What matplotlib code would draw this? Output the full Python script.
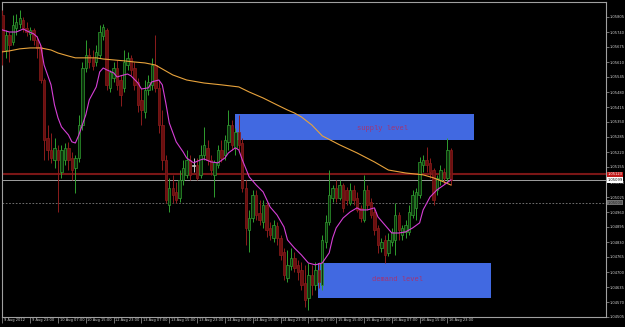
import matplotlib
matplotlib.use("Agg")
import matplotlib.pyplot as plt
import matplotlib.transforms as mtransforms
from matplotlib.patches import Rectangle
import numpy as np

# EURUSD-like H1 bars, 9 Aug 15:00 .. 16 Aug 23:00
opens = [1.05814, 1.05662, 1.05727, 1.05697, 1.05758, 1.05775, 1.05792, 1.05758, 1.05732, 1.05749,
         1.05706, 1.05675, 1.05532, 1.05281, 1.05229, 1.05186, 1.05229, 1.05134, 1.05186, 1.05238,
         1.05194, 1.05151, 1.05194, 1.05337, 1.05584, 1.05641, 1.05628, 1.05610, 1.05641, 1.05723,
         1.05749, 1.05498, 1.05541, 1.05584, 1.05532, 1.05498, 1.05597, 1.05628, 1.05584, 1.05524,
         1.05446, 1.05394, 1.05489, 1.05511, 1.05597, 1.05498, 1.05337, 1.05186, 1.04991, 1.05064,
         1.05047, 1.05021, 1.05099, 1.05121, 1.05186, 1.05160, 1.05164, 1.05121, 1.05207, 1.05238,
         1.05186, 1.05121, 1.05164, 1.05229, 1.05207, 1.05264, 1.05337, 1.05238, 1.05307, 1.05259,
         1.05064, 1.04882, 1.04934, 1.05034, 1.04956, 1.04917, 1.04991, 1.04891, 1.04848, 1.04900,
         1.04848, 1.04787, 1.04674, 1.04726, 1.04761, 1.04731, 1.04709, 1.04653, 1.04588, 1.04687,
         1.04644, 1.04709, 1.04644, 1.04830, 1.04917, 1.05021, 1.05064, 1.05021, 1.05077, 1.05056,
         1.04999, 1.05056, 1.05021, 1.04978, 1.04926, 1.05056, 1.05004, 1.04960, 1.04891, 1.04804,
         1.04839, 1.04783, 1.04830, 1.04839, 1.04947, 1.04861, 1.04874, 1.04874, 1.04947, 1.04978,
         1.05034, 1.05164, 1.05186, 1.05173, 1.05142, 1.05056, 1.05099, 1.05134, 1.05108, 1.05229]
highs = [1.05836, 1.05749, 1.05740, 1.05814, 1.05818, 1.05836, 1.05805, 1.05784, 1.05762, 1.05758,
         1.05723, 1.05684, 1.05541, 1.05337, 1.05303, 1.05281, 1.05251, 1.05251, 1.05259, 1.05264,
         1.05220, 1.05207, 1.05381, 1.05610, 1.05706, 1.05671, 1.05662, 1.05684, 1.05771, 1.05775,
         1.05758, 1.05576, 1.05610, 1.05619, 1.05554, 1.05662, 1.05654, 1.05641, 1.05610, 1.05541,
         1.05498, 1.05532, 1.05554, 1.05628, 1.05727, 1.05532, 1.05402, 1.05207, 1.05108, 1.05121,
         1.05090, 1.05142, 1.05186, 1.05229, 1.05207, 1.05194, 1.05194, 1.05251, 1.05329, 1.05272,
         1.05207, 1.05186, 1.05251, 1.05272, 1.05294, 1.05402, 1.05359, 1.05324, 1.05381, 1.05281,
         1.05099, 1.04969, 1.05056, 1.05056, 1.05012, 1.05012, 1.05004, 1.04917, 1.04926, 1.04917,
         1.04861, 1.04804, 1.04796, 1.04804, 1.04787, 1.04752, 1.04744, 1.04731, 1.04739, 1.04731,
         1.04744, 1.04744, 1.04861, 1.04947, 1.05142, 1.05077, 1.05099, 1.05099, 1.05086, 1.05069,
         1.05086, 1.05077, 1.05047, 1.04991, 1.05121, 1.05077, 1.05021, 1.04978, 1.04904, 1.04848,
         1.04861, 1.04869, 1.04891, 1.04999, 1.04960, 1.04904, 1.04926, 1.04991, 1.05056, 1.05064,
         1.05199, 1.05207, 1.05242, 1.05194, 1.05151, 1.05121, 1.05164, 1.05151, 1.05281, 1.05238]
lows = [1.05597, 1.05628, 1.05610, 1.05684, 1.05727, 1.05758, 1.05740, 1.05723, 1.05706, 1.05684,
        1.05628, 1.05519, 1.05186, 1.05186, 1.05173, 1.05151, 1.04960, 1.05108, 1.05164, 1.05142,
        1.05099, 1.05043, 1.05177, 1.05316, 1.05567, 1.05584, 1.05576, 1.05593, 1.05628, 1.05706,
        1.05489, 1.05480, 1.05524, 1.05489, 1.05420, 1.05480, 1.05576, 1.05554, 1.05489, 1.05394,
        1.05337, 1.05368, 1.05467, 1.05489, 1.05480, 1.05303, 1.05142, 1.04999, 1.04960, 1.04999,
        1.04999, 1.05004, 1.05077, 1.05108, 1.05099, 1.05134, 1.05099, 1.05108, 1.05186, 1.05164,
        1.05121, 1.05025, 1.05151, 1.05177, 1.05186, 1.05229, 1.05229, 1.05207, 1.05229, 1.05047,
        1.04817, 1.04787, 1.04917, 1.04926, 1.04904, 1.04891, 1.04852, 1.04839, 1.04830, 1.04817,
        1.04752, 1.04666, 1.04657, 1.04709, 1.04700, 1.04666, 1.04622, 1.04549, 1.04536, 1.04601,
        1.04622, 1.04631, 1.04622, 1.04804, 1.04904, 1.05004, 1.05004, 1.05012, 1.04960, 1.04991,
        1.04991, 1.04991, 1.04960, 1.04917, 1.04917, 1.04969, 1.04934, 1.04861, 1.04783, 1.04787,
        1.04739, 1.04770, 1.04813, 1.04774, 1.04839, 1.04839, 1.04848, 1.04861, 1.04934, 1.04926,
        1.05021, 1.05134, 1.05134, 1.05108, 1.04991, 1.05034, 1.05077, 1.05082, 1.05090, 1.05077]
closes = [1.05662, 1.05727, 1.05684, 1.05771, 1.05784, 1.05801, 1.05758, 1.05740, 1.05749, 1.05706,
          1.05671, 1.05532, 1.05272, 1.05229, 1.05194, 1.05238, 1.05186, 1.05229, 1.05238, 1.05186,
          1.05142, 1.05194, 1.05337, 1.05584, 1.05641, 1.05610, 1.05593, 1.05654, 1.05740, 1.05762,
          1.05511, 1.05567, 1.05584, 1.05511, 1.05467, 1.05610, 1.05628, 1.05576, 1.05511, 1.05424,
          1.05402, 1.05489, 1.05524, 1.05597, 1.05498, 1.05337, 1.05186, 1.05012, 1.05064, 1.05034,
          1.05012, 1.05099, 1.05151, 1.05186, 1.05121, 1.05160, 1.05108, 1.05207, 1.05251, 1.05186,
          1.05142, 1.05177, 1.05229, 1.05194, 1.05272, 1.05337, 1.05251, 1.05307, 1.05251, 1.05064,
          1.04891, 1.04934, 1.05034, 1.04947, 1.04926, 1.04991, 1.04882, 1.04861, 1.04904, 1.04848,
          1.04774, 1.04687, 1.04731, 1.04761, 1.04718, 1.04700, 1.04644, 1.04579, 1.04687, 1.04644,
          1.04709, 1.04657, 1.04839, 1.04917, 1.05034, 1.05064, 1.05021, 1.05077, 1.04978, 1.05012,
          1.05056, 1.05012, 1.04969, 1.04934, 1.05056, 1.04991, 1.04947, 1.04882, 1.04817, 1.04830,
          1.04774, 1.04839, 1.04874, 1.04947, 1.04882, 1.04891, 1.04904, 1.04960, 1.05034, 1.05047,
          1.05177, 1.05186, 1.05164, 1.05134, 1.05012, 1.05108, 1.05142, 1.05108, 1.05229, 1.05099]

# moving averages (bar index, price)
fast_idx = [0, 2, 4, 6, 7, 9, 10, 11, 12, 14, 15, 16, 17, 19, 20, 21, 22, 24, 25, 27,
            28, 29, 30, 32, 33, 34, 36, 37, 39, 40, 42, 43, 45, 46, 47, 48, 50, 52, 53, 55,
            57, 58, 60, 62, 64, 65, 67, 68, 69, 71, 73, 75, 77, 79, 81, 82, 84, 86, 88, 90,
            92, 94, 95, 96, 98, 100, 102, 103, 105, 107, 108, 110, 112, 114, 116, 118, 120, 121, 123, 125,
            127, 129]
fast_ma = [1.05749, 1.05740, 1.05740, 1.05753, 1.05745, 1.05732, 1.05719, 1.05684, 1.05597, 1.05511,
           1.05424, 1.05368, 1.05329, 1.05294, 1.05264, 1.05259, 1.05294, 1.05381, 1.05446, 1.05502,
           1.05567, 1.05584, 1.05576, 1.05563, 1.05545, 1.05550, 1.05558, 1.05550, 1.05519, 1.05493,
           1.05498, 1.05524, 1.05532, 1.05511, 1.05433, 1.05346, 1.05264, 1.05220, 1.05194, 1.05173,
           1.05186, 1.05190, 1.05177, 1.05173, 1.05194, 1.05216, 1.05238, 1.05229, 1.05186, 1.05112,
           1.05077, 1.05047, 1.04982, 1.04947, 1.04895, 1.04839, 1.04804, 1.04774, 1.04739, 1.04731,
           1.04739, 1.04783, 1.04848, 1.04891, 1.04934, 1.04960, 1.04978, 1.04969, 1.04969, 1.04978,
           1.04939, 1.04904, 1.04869, 1.04869, 1.04874, 1.04891, 1.04913, 1.04969, 1.05025, 1.05056,
           1.05077, 1.05099]
slow_idx = [0, 2, 5, 8, 11, 14, 16, 19, 21, 27, 29, 32, 35, 38, 41, 44, 49, 53, 58, 63,
            68, 71, 75, 79, 82, 84, 86, 89, 92, 97, 102, 107, 111, 116, 121, 124, 127, 129]
slow_ma = [1.05654, 1.05658, 1.05667, 1.05671, 1.05671, 1.05662, 1.05649, 1.05636, 1.05628, 1.05628,
           1.05623, 1.05619, 1.05615, 1.05610, 1.05606, 1.05597, 1.05554, 1.05532, 1.05519, 1.05511,
           1.05502, 1.05480, 1.05454, 1.05424, 1.05402, 1.05389, 1.05372, 1.05337, 1.05290, 1.05251,
           1.05216, 1.05177, 1.05142, 1.05129, 1.05121, 1.05108, 1.05090, 1.05077]

# zones (bar from, bar to, price low, price high) and their labels
supply_zone = (66.9, 135.6, 1.05272, 1.05385)
demand_zone = (90.8, 140.5, 1.04588, 1.04739)
supply_label = (109.2, 1.05320, "supply level")
demand_label = (113.6, 1.04666, "demand level")

level_line = 1.05123
round_level = 1.05000

price_ticks = [1.04505, 1.04570, 1.04635, 1.04700, 1.04765, 1.04830, 1.04895, 1.04960, 1.05025,
               1.05090, 1.05155, 1.05220, 1.05285, 1.05350, 1.05415, 1.05480, 1.05545, 1.05610,
               1.05675, 1.05740, 1.05805]
date_pos = [0, 8, 16, 24, 32, 40, 48, 56, 64, 72, 80, 88, 96, 104, 112, 120, 128]
date_labels = ["9 Aug 2012", "9 Aug 23:00", "10 Aug 07:00", "10 Aug 15:00", "12 Aug 23:00",
               "13 Aug 07:00", "13 Aug 15:00", "13 Aug 23:00", "14 Aug 07:00", "14 Aug 15:00",
               "14 Aug 23:00", "15 Aug 07:00", "15 Aug 15:00", "15 Aug 23:00", "16 Aug 07:00",
               "16 Aug 15:00", "16 Aug 23:00"]

o = np.array(opens)
h = np.array(highs)
l = np.array(lows)
c = np.array(closes)
bars = np.arange(len(o))

GREEN = "#2f9e2f"
RED = "#8c1c1c"
FS = 2.6  # scale font, tiny like the terminal's

fig = plt.figure(figsize=(6.25, 3.27), dpi=100, facecolor="black")
ax = fig.add_axes([2 / 625, 10 / 327, 604 / 625, 315 / 327])
ax.set_facecolor("black")
ax.set_xlim(-0.1, 173.6)
ax.set_ylim(1.04505, 1.05870)

# zones behind everything
for x0, x1, p0, p1 in (supply_zone, demand_zone):
    ax.add_patch(Rectangle((x0, p0), x1 - x0, p1 - p0, facecolor="#4169e1",
                           edgecolor="none", zorder=1))
for x, p, txt in (supply_label, demand_label):
    ax.text(x, p, txt, color="#a8326e", fontsize=5, family="Liberation Mono",
            ha="center", va="center", zorder=7)

# horizontal lines
ax.axhline(level_line, color="#7a1616", lw=1.5, zorder=2)
ax.axhline(c[-1], color="#a0a0a0", lw=0.7, zorder=2)
ax.axhline(round_level, color="#808080", lw=0.6, ls=(0, (2, 2)), zorder=2)

# candles
edge = np.where(c > o, GREEN, np.where(c < o, RED, "#c8c8c8"))
face = np.where(c > o, "#0c300c", np.where(c < o, "#6a0f0f", "#c8c8c8"))
ax.vlines(bars, l, h, colors=edge, lw=0.7, zorder=3)
body = np.maximum(np.abs(c - o), 0.00003)
ax.bar(bars, body, bottom=np.minimum(o, c), width=0.7, color=face,
       edgecolor=edge, lw=0.5, zorder=4)

# moving averages
ax.plot(slow_idx, slow_ma, color="#e8a33c", lw=0.8, zorder=5)
ax.plot(fast_idx, fast_ma, color="#d63fd6", lw=0.8, zorder=6)

# axes styling
for s in ax.spines.values():
    s.set_color("#a0a0a0")
    s.set_linewidth(0.8)

ax.yaxis.tick_right()
ax.set_yticks(price_ticks)
ax.set_yticklabels([f"{p:.5f}" for p in price_ticks])
ax.tick_params(axis="y", colors="#a0a0a0", labelcolor="#d0d0d0", labelsize=FS,
               length=2, width=0.5, pad=0.8)

ax.set_xticks(date_pos)
ax.set_xticklabels(date_labels, ha="left")
ax.tick_params(axis="x", colors="#a0a0a0", labelcolor="#d0d0d0", labelsize=FS,
               length=4, width=0.5, pad=-3.0)
shift = mtransforms.ScaledTranslation(1.2 / 72, 0, fig.dpi_scale_trans)
for lab in ax.get_xticklabels():
    lab.set_transform(lab.get_transform() + shift)

# price tags on the right scale
ytr = mtransforms.blended_transform_factory(ax.transAxes, ax.transData)
tags = [(level_line, "#c01818", "white"), (c[-1], "white", "black"),
        (round_level, "#707070", "#202020")]
for p, bg, fg in tags:
    ax.text(1.0025, p, f"{p:.5f}", transform=ytr, fontsize=FS, color=fg,
            ha="left", va="center", clip_on=False, zorder=8,
            bbox=dict(boxstyle="square,pad=0.2", facecolor=bg, edgecolor="none"))

fig.savefig("out.png", dpi=100, facecolor="black")
